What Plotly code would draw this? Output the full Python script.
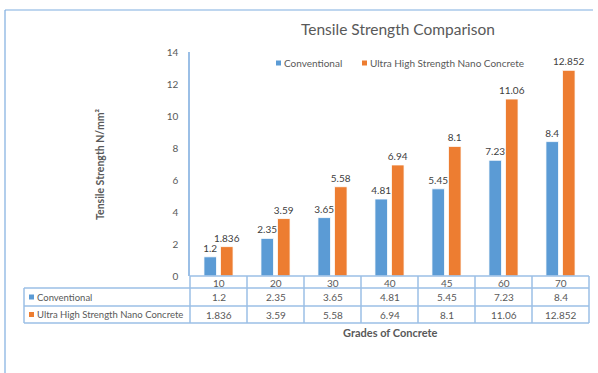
import plotly.graph_objects as go

# Grades of concrete and tensile strengths (N/mm²)
grades = ["10", "20", "30", "40", "45", "60", "70"]
conventional = [1.2, 2.35, 3.65, 4.81, 5.45, 7.23, 8.4]
uhs_nano = [1.836, 3.59, 5.58, 6.94, 8.1, 11.06, 12.852]
series_names = ["Conventional", "Ultra High Strength Nano Concrete"]

BLUE = "#5B9BD5"
ORANGE = "#ED7D31"
GRID = "#9BBFE6"
TEXT = "#595959"
FONT = "Lato"

W, H = 598, 373
L, R, T, B = 190, 9, 52, 97
PW, PH = W - L - R, H - T - B


def px(x):
    """pixel column -> paper x"""
    return (x - L) / PW


def py(y):
    """pixel row -> paper y"""
    return (H - B - y) / PH


fig = go.Figure()
for name, vals, col in [(series_names[0], conventional, BLUE),
                        (series_names[1], uhs_nano, ORANGE)]:
    fig.add_trace(go.Bar(
        x=grades, y=vals, name=name,
        marker=dict(color=col, line=dict(color="white", width=0.8)),
        text=[f"{v:g}" for v in vals], textposition="outside",
        constraintext="none",
        textfont=dict(size=10, color="#404040", family=FONT),
        cliponaxis=False, showlegend=False,
    ))

shapes = []
ann = []


def text(x, y, s, size=10, xref="paper", xanchor="center", **kw):
    ann.append(dict(x=x, xref=xref, y=y, yref="paper", text=s,
                    xanchor=xanchor, yanchor="middle", showarrow=False,
                    font=dict(size=size, color=TEXT, family=FONT), **kw))


def hline(x0, x1, y, color=GRID, w=1.5):
    shapes.append(dict(type="line", xref="paper", yref="paper",
                       x0=px(x0), x1=px(x1), y0=py(y), y1=py(y),
                       line=dict(color=color, width=w)))


def vline(x, y0, y1, color=GRID, w=1.5):
    shapes.append(dict(type="line", xref="paper", yref="paper",
                       x0=px(x), x1=px(x), y0=py(y0), y1=py(y1),
                       line=dict(color=color, width=w)))


def square(x, y, color, s=5):
    shapes.append(dict(type="rect", xref="paper", yref="paper",
                       x0=px(x), x1=px(x + s), y0=py(y - s / 2), y1=py(y + s / 2),
                       line=dict(width=0), fillcolor=color))


# outer frame (top and left edges)
hline(5, 593, 10, color="#7FAEE0", w=1.2)
vline(5, 10, 373, color="#7FAEE0", w=1.2)

# data table grid
col_w = PW / len(grades)
hline(190, 190 + PW, 276)
for yy in (288, 306, 323):
    hline(24, 190 + PW, yy)
vline(24, 288, 323)
for i in range(len(grades) + 1):
    vline(190 + i * col_w, 276, 323)

# table contents (x given as category index on the x axis)
for i, g in enumerate(grades):
    text(i, py(282.5), g, xref="x")
    text(i, py(297), f"{conventional[i]:g}", xref="x")
    text(i, py(314.5), f"{uhs_nano[i]:g}", xref="x")

for name, col, yy in [(series_names[0], BLUE, 297), (series_names[1], ORANGE, 314.5)]:
    square(29, yy, col)
    text(px(35), py(yy), name, size=9.5, xanchor="left")

# legend
for name, col, x0 in [(series_names[0], BLUE, 276), (series_names[1], ORANGE, 362)]:
    square(x0, 63, col)
    text(px(x0 + 6), py(63), name, xanchor="left")

# titles
text(px(398), py(29), "Tensile Strength Comparison", size=15.5)
text(px(100), py(164), "<b>Tensile Strength N/mm²</b>", size=10.5, textangle=-90)
text(px(390), py(332), "<b>Grades of Concrete</b>", size=11)

fig.update_layout(
    width=W, height=H,
    margin=dict(l=L, r=R, t=T, b=B),
    paper_bgcolor="white", plot_bgcolor="white",
    barmode="group", bargap=0.42, bargroupgap=0.24,
    font=dict(family=FONT, color=TEXT),
    shapes=shapes, annotations=ann,
    xaxis=dict(type="category", range=[-0.5, len(grades) - 0.5],
               showticklabels=False, showgrid=False,
               showline=False, zeroline=False, ticks=""),
    yaxis=dict(range=[0, 14], dtick=2, showgrid=False, zeroline=False,
               showline=True, linecolor=GRID, linewidth=1.5, ticks="",
               ticklabelstandoff=8,
               tickfont=dict(size=10, color=TEXT, family=FONT)),
)

fig.write_html("out.html")
